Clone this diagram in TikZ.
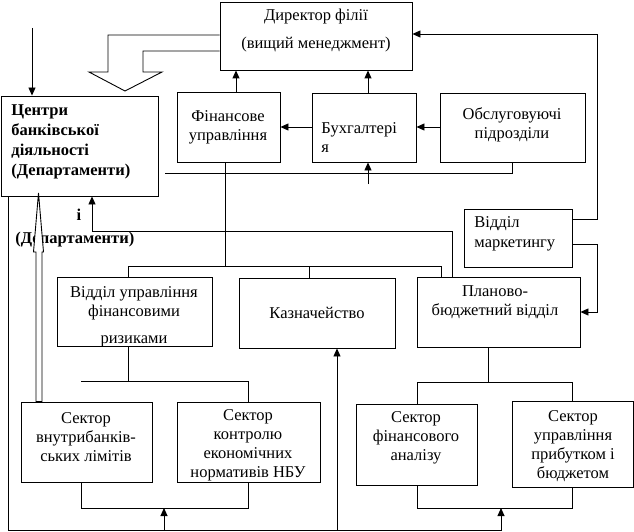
\documentclass[tikz,border=0pt]{standalone}
\usepackage{fontspec}
\setmainfont{Liberation Serif}
\usetikzlibrary{arrows.meta,calc}
\begin{document}
\begin{tikzpicture}[x=1pt,y=-1pt,line width=0.9pt,
  box/.style={draw,rectangle,inner sep=0pt},
  txt/.style={font=\fontsize{16.5}{19}\selectfont,align=center,inner sep=0pt},
  btxt/.style={font=\bfseries\fontsize{16.5}{20}\selectfont,align=left,inner sep=0pt},
  arr/.style={-{Triangle[length=8pt,width=7pt]}}]
\useasboundingbox (0,0) rectangle (634,532);
% boxes
\node[box,minimum width=192pt,minimum height=68pt] (dir) at (316,36) {};
\node[box,minimum width=157pt,minimum height=100pt] (cen) at (79.5,146) {};
\node[box,minimum width=103pt,minimum height=70pt] (fin) at (228.5,127) {};
\node[box,minimum width=104pt,minimum height=69pt] (buh) at (364,127.5) {};
\node[box,minimum width=145pt,minimum height=69pt] (obs) at (512.5,127.5) {};
\node[box,minimum width=108pt,minimum height=58pt] (mkt) at (518,238) {};
\node[box,minimum width=155pt,minimum height=69pt] (risk) at (134.5,311.5) {};
\node[box,minimum width=156pt,minimum height=70pt] (kaz) at (317,313) {};
\node[box,minimum width=163pt,minimum height=70pt] (plan) at (498.5,312) {};
\node[box,minimum width=131pt,minimum height=80pt] (s1) at (86.5,442) {};
\node[box,minimum width=143pt,minimum height=80pt] (s2) at (248.5,442) {};
\node[box,minimum width=121pt,minimum height=81pt] (s3) at (416.5,444.5) {};
\node[box,minimum width=121pt,minimum height=86pt] (s4) at (572.5,444) {};
% texts
\node[txt] (dirt) at (316,31) {Директор філії\\[9pt](вищий менеджмент)};
\node[btxt,anchor=west] (cent) at (11,142) {Центри\\банківської\\діяльності\\(Департаменти)};
\node[txt] (fint) at (228,127.5) {Фінансове\\управління};
\node[txt,anchor=west,align=left] (buht) at (321,137.5) {Бухгалтері\\я};
\node[txt] (obst) at (512,125) {Обслуговуючі\\підрозділи};
\node[txt,anchor=west,align=left,font=\fontsize{16.5}{20}\selectfont] (mktt) at (474,234) {Відділ\\маркетингу};
\node[txt] (riskt) at (134,316.5) {Відділ управління\\фінансовими\\[8pt]ризиками};
\node[txt] (kazt) at (317,313) {Казначейство};
\node[txt] (plant) at (495,302.5) {Планово-\\бюджетний відділ};
\node[txt] (s1t) at (86,437) {Сектор\\внутрибанків-\\ських лімітів};
\node[txt] (s2t) at (248,445.5) {Сектор\\контролю\\економічних\\нормативів НБУ};
\node[txt] (s3t) at (416,437.5) {Сектор\\фінансового\\аналізу};
\node[txt] (s4t) at (573,446) {Сектор\\управління\\прибутком і\\бюджетом};
\node[btxt] (strayi) at (79,215) {і};
\node[btxt,anchor=west] (strayd) at (15,240) {(Департаменти)};
% coordinates
\coordinate (inTop) at (32,28);
\coordinate (buhIn) at (368,184);
% arrows to director
\draw[arr] (fin.north -| 236,0) -- (dir.south -| 236,0);
\draw[arr] (buh.north -| 368,0) -- (dir.south -| 368,0);
\draw[arr] (obs.west |- 0,127) -- (buh.east |- 0,127);
\draw[arr] (buh.west |- 0,127) -- (fin.east |- 0,127);
\draw[arr] (mkt.east |- 0,219) -- (597,219) -- (597,34) -- (dir.east |- 0,34);
\draw[arr] (mkt.east |- 0,244) -- (597,244) -- (597,312) -- (plan.east |- 0,312);
\draw ([xshift=7pt]cen.east |- 0,173) -- (512,173) -- (obs.south -| 512,0);
\draw[arr] (buhIn) -- (buh.south -| 368,0);
% finance bus
\draw (fin.south -| 225,0) -- (225,266);
\draw (128,266) -- (441,266);
\draw (128,266) -- (risk.north -| 128,0);
\draw (309,266) -- (kaz.north -| 309,0);
\draw (441,266) -- (plan.north -| 441,0);
\draw[arr] (plan.north -| 452,0) -- (452,231) -- (92,231) -- (cen.south -| 92,0);
% input
\draw[arr] (inTop) -- (cen.north -| 32,0);
% risk bus
\draw (risk.south -| 128,0) -- (128,381);
\draw (81,381) -- (248,381) -- (s2.north -| 248,0);
\draw (s1.south -| 81,0) -- (81,508) -- (248,508) -- (s2.south -| 248,0);
% plan bus
\draw (plan.south -| 488,0) -- (488,382);
\draw (s3.north -| 417,0) -- (417,382) -- (572,382) -- (s4.north -| 572,0);
\draw (s3.south -| 417,0) -- (417,508) -- (572,508) -- (s4.south -| 572,0);
% bottom loop
\draw (cen.south -| 8,0) -- (8,530.5) -- (501,530.5);
\draw[arr] (501,530.5) -- (501,508);
\draw[arr] (164,530.5) -- (164,508);
\draw[arr] (337,530.5) -- (kaz.south -| 337,0);
% big hollow arrow
\draw[line join=miter] (dir.west |- 0,35) -- (108,35) -- (108,72) -- (89,72) -- (125,91) -- (162,72) -- (143,72) -- (143,51) -- (dir.west |- 0,51);
% thin hollow arrow
\draw[fill=white] (s1.north -| 36,0) -- (36,252) -- (33.5,252) -- (38.5,193) -- (43.5,252) -- (42,252) -- (s1.north -| 42,0) -- cycle;
\end{tikzpicture}
\end{document}
